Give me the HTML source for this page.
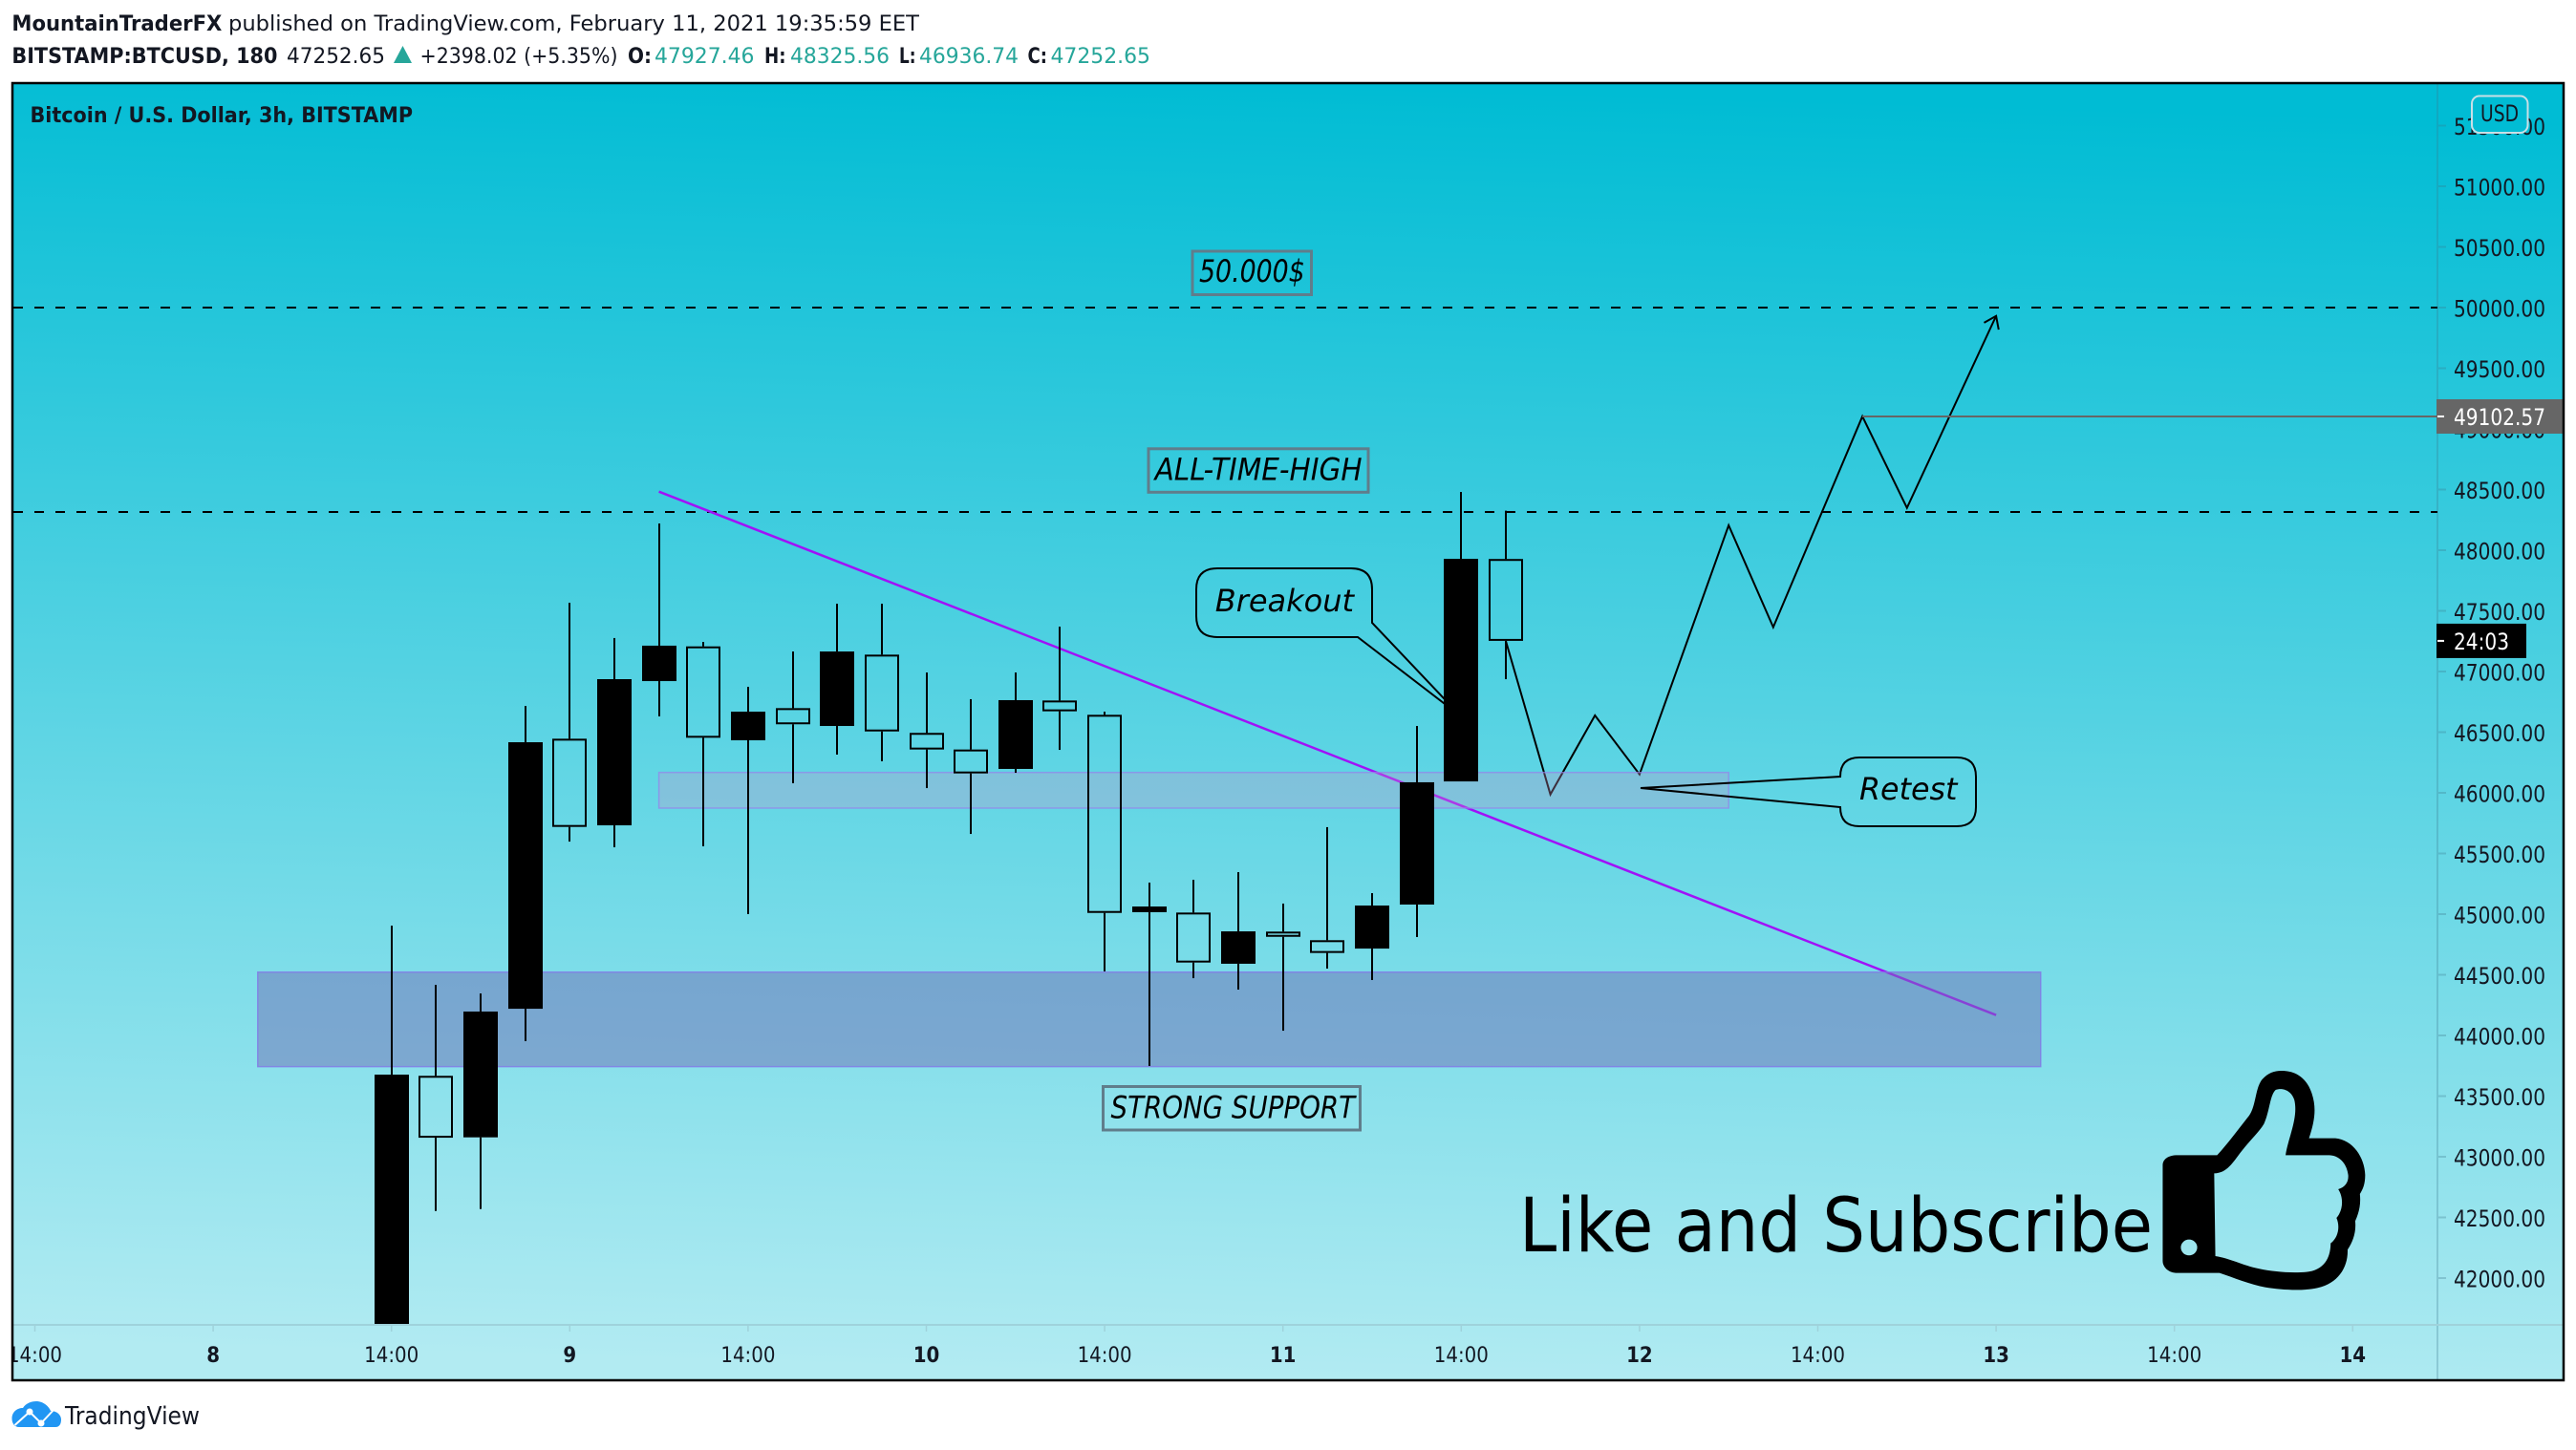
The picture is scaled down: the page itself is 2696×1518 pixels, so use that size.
<!DOCTYPE html>
<html lang="en">
<head>
<meta charset="utf-8">
<title>BTCUSD 3h chart</title>
<style>
html,body{margin:0;padding:0;background:#fff;width:2696px;height:1518px;overflow:hidden}
svg{display:block}
text{font-family:"DejaVu Sans","Liberation Sans",sans-serif;fill:#131722}
.b{font-weight:bold}
.g{fill:#26a69a}
.it{font-style:italic;fill:#000}
</style>
</head>
<body>
<svg xmlns="http://www.w3.org/2000/svg" width="2696" height="1518" viewBox="0 0 2696 1518">
<defs>
<linearGradient id="bgGrad" gradientUnits="userSpaceOnUse" x1="1368" y1="88" x2="1328" y2="1444">
<stop offset="0" stop-color="#00bcd4"/><stop offset="1" stop-color="#b2ebf2"/>
</linearGradient>
<clipPath id="plotClip"><rect x="14" y="88" width="2537" height="1298"/></clipPath>
<clipPath id="chartClip"><rect x="14" y="88" width="2668" height="1356"/></clipPath>
</defs>

<text class="b" x="12.4" y="32" font-size="22" textLength="220" lengthAdjust="spacingAndGlyphs">MountainTraderFX</text>
<text x="239" y="32" font-size="22" textLength="723" lengthAdjust="spacingAndGlyphs">published on TradingView.com, February 11, 2021 19:35:59 EET</text>

<text class="b" x="12.4" y="66" font-size="22" textLength="278" lengthAdjust="spacingAndGlyphs">BITSTAMP:BTCUSD, 180</text>
<text x="300" y="66" font-size="22" textLength="103" lengthAdjust="spacingAndGlyphs">47252.65</text>
<polygon points="421.5,48 431,66 412,66" fill="#26a69a"/>
<text x="439.5" y="66" font-size="22" textLength="207" lengthAdjust="spacingAndGlyphs">+2398.02 (+5.35%)</text>
<text class="b" x="657" y="66" font-size="22" textLength="25" lengthAdjust="spacingAndGlyphs">O:</text>
<text class="g" x="685" y="66" font-size="22" textLength="104.5" lengthAdjust="spacingAndGlyphs">47927.46</text>
<text class="b" x="800" y="66" font-size="22" textLength="22.5" lengthAdjust="spacingAndGlyphs">H:</text>
<text class="g" x="827" y="66" font-size="22" textLength="104" lengthAdjust="spacingAndGlyphs">48325.56</text>
<text class="b" x="941" y="66" font-size="22" textLength="17.5" lengthAdjust="spacingAndGlyphs">L:</text>
<text class="g" x="962" y="66" font-size="22" textLength="104" lengthAdjust="spacingAndGlyphs">46936.74</text>
<text class="b" x="1075.5" y="66" font-size="22" textLength="20.5" lengthAdjust="spacingAndGlyphs">C:</text>
<text class="g" x="1099.5" y="66" font-size="22" textLength="104.5" lengthAdjust="spacingAndGlyphs">47252.65</text>

<rect x="13" y="87" width="2670" height="1358" fill="url(#bgGrad)"/>

<g id="priceAxis"></g>
<g id="timeAxis" clip-path="url(#chartClip)"></g>

<text class="b" x="31.5" y="128" font-size="22" textLength="400.5" lengthAdjust="spacingAndGlyphs">Bitcoin / U.S. Dollar, 3h, BITSTAMP</text>

<g id="overlayLines" clip-path="url(#plotClip)"></g>
<g id="zones" clip-path="url(#plotClip)"></g>
<g id="candles" clip-path="url(#plotClip)"></g>

<g>
<rect x="1248" y="263" width="124.500" height="45.500" fill="none" stroke="#607d8b" stroke-width="3"/>
<text class="it" x="1255" y="295" font-size="32" textLength="110.700" lengthAdjust="spacingAndGlyphs">50.000$</text>
</g>
<g>
<rect x="1202" y="469.800" width="230" height="45.500" fill="none" stroke="#607d8b" stroke-width="3"/>
<text class="it" x="1208.600" y="502.700" font-size="32" textLength="217" lengthAdjust="spacingAndGlyphs">ALL-TIME-HIGH</text>
</g>
<g>
<rect x="1154.500" y="1137.500" width="269" height="45.500" fill="none" stroke="#607d8b" stroke-width="3"/>
<text class="it" x="1162.500" y="1170.700" font-size="32" textLength="255.500" lengthAdjust="spacingAndGlyphs">STRONG SUPPORT</text>
</g>
<g>
<path d="M1274 595H1414Q1436 595 1436 617V652L1529 750L1421 667H1274Q1252 667 1252 645V617Q1252 595 1274 595Z" fill="none" stroke="#000" stroke-width="2"/>
<text class="it" x="1271.800" y="640" font-size="32" textLength="145.200" lengthAdjust="spacingAndGlyphs">Breakout</text>
</g>
<g>
<path d="M1946 793H2048Q2068 793 2068 813V845Q2068 865 2048 865H1946Q1926 865 1926 845L1717 825L1926 813Q1926 793 1946 793Z" fill="none" stroke="#000" stroke-width="2"/>
<text class="it" x="1946" y="837" font-size="32" textLength="102.500" lengthAdjust="spacingAndGlyphs">Retest</text>
</g>

<text x="1590" y="1310" font-size="78" textLength="663" lengthAdjust="spacingAndGlyphs" style="fill:#000">Like and Subscribe</text>
<path transform="translate(1550,1080) scale(0.6124,0.3333)" fill="#000" fill-rule="evenodd"
 d="M1190 388L1258 388C1275 355 1295 305 1310 270C1325 240 1322 180 1335 150C1345 130 1355 123 1368 123C1395 123 1412 150 1420 195C1428 240 1425 280 1415 335L1460 335C1490 340 1510 395 1511 450C1511 480 1507 495 1502 510C1504 545 1500 570 1494 595C1496 630 1490 660 1481 685C1482 740 1465 790 1430 805C1405 815 1370 812 1340 803C1315 795 1285 772 1262 758L1190 758C1175 758 1165 740 1165 720L1165 420C1165 400 1175 388 1190 388Z
 M1253 445C1275 445 1285 410 1300 375C1315 340 1330 315 1338 290C1348 250 1348 200 1358 183C1370 175 1385 185 1390 215C1397 270 1380 330 1375 388L1450 388C1470 390 1480 420 1482 450C1483 470 1478 488 1465 495C1474 520 1474 560 1462 585C1468 610 1466 645 1452 665C1452 700 1445 745 1415 754C1390 760 1355 755 1330 745C1300 733 1280 712 1255 705Z
 M1196 678a14 25 0 1 0 28 0a14 25 0 1 0 -28 0Z"/>

<g id="priceOverlays"></g>

<g>
<rect x="2587" y="100.500" width="58.500" height="38.500" rx="8" fill="url(#bgGrad)" stroke="#c9dfe6" stroke-width="2"/>
<text x="2596" y="127" font-size="24" textLength="40" lengthAdjust="spacingAndGlyphs">USD</text>
</g>

<rect x="13" y="87" width="2670" height="1358" fill="none" stroke="#000" stroke-width="2.500"/>

<g>
<path d="M12.500 1485C12.500 1478 18 1474 24 1474C27 1469 33 1467 38 1467C45 1467 51 1472 53 1477C59 1477 64 1481 64 1486C64 1491 62 1494 58 1494H20C15 1494 12.500 1490 12.500 1485Z" fill="#2196f3"/>
<path d="M15.500 1492L31 1478L43 1490L58 1474" fill="none" stroke="#fff" stroke-width="2"/>
<circle cx="31" cy="1478" r="3.500" fill="#fff"/>
<circle cx="43" cy="1490" r="3.500" fill="#fff"/>
<text x="68" y="1491" font-size="26" textLength="141" lengthAdjust="spacingAndGlyphs">TradingView</text>
</g>
</svg>

<script>
// Candle data, one entry per 3h bar (bar 0 = 8 Feb 14:00)
const opens  = [41197,43667,43160,44220,46446,45732,46921,47207,46433,46698,46551,47139,46494,46357,46197,46761,46643,45016,45013,44591,44856,44785,44716,45079,46094,47927.46];
const highs  = [44905,44417,44346,46716,47567,47276,48220,47244,46874,47165,47559,47559,46992,46772,46992,47370,46669,45260,45283,45346,45087,45717,45173,46551,48480,48325.56];
const lows   = [41000,42553,42569,43953,45598,45551,46630,45559,45000,46079,46315,46260,46039,45661,46165,46354,44528,43748,44472,44378,44039,44551,44457,44811,46094,46936.74];
const closes = [43677,43157,44197,46417,45719,46937,47213,46454,46669,46565,47165,46506,46357,46160,46764,46672,45010,45063,44601,44858,44813,44680,45071,46087,47929,47252.65];

// Axis ticks
const priceTicks = [51500,51000,50500,50000,49500,49000,48500,48000,47500,47000,46500,46000,45500,45000,44500,44000,43500,43000,42500,42000];
const timeTickBars = [-8,-4,0,4,8,12,16,20,24,28,32,36,40,44];
const timeTickLabels = ["14:00","8","14:00","9","14:00","10","14:00","11","14:00","12","14:00","13","14:00","14"];

// Drawings
const levelPrices = [50000,48315];
const forecastBars = [25,26,27,28,30,31,33,34,36];
const forecastPrices = [47252,45987,46638,46152,48205,47365,49102.57,48349,49931];
const trendBars = [6,36];
const trendPrices = [48483,44168];
const horizontalBars = [33];
const horizontalPrices = [49102.57];
const zoneStartBars = [6,-3];
const zoneEndBars = [30,37];
const zoneTopPrices = [46168,44522];
const zoneBottomPrices = [45874,43743];

const lastPriceLabel = "49102.57";
const countdownPrice = 47252.65;
const countdownLabel = "24:03";

const NS = "http://www.w3.org/2000/svg";
const X_ORIGIN = 409.7, BAR_STEP = 46.65, Y_ORIGIN = 322, Y_SCALE = 0.127, PLOT_LEFT = 14, PLOT_RIGHT = 2551;
function xOf(bar){ return X_ORIGIN + bar * BAR_STEP; }
function yOf(price){ return Y_ORIGIN + (50000 - price) * Y_SCALE; }
function mk(tag, attrs, parent){
  const e = document.createElementNS(NS, tag);
  for (const k in attrs) e.setAttribute(k, attrs[k]);
  parent.appendChild(e);
  return e;
}
const priceAxisG = document.getElementById("priceAxis");
const timeAxisG = document.getElementById("timeAxis");
const linesG = document.getElementById("overlayLines");
const zonesG = document.getElementById("zones");
const candlesG = document.getElementById("candles");
const overlaysG = document.getElementById("priceOverlays");

// Price axis
let axisLine = mk("rect", {x:2550, y:88, width:2, height:1356, fill:"rgba(60,120,140,0.28)"}, priceAxisG);


priceTicks.forEach(function(p){
  const y = yOf(p);
  const t = mk("rect", {x:2552, y:y-1, width:8, height:2, fill:"rgba(60,120,140,0.3)"}, priceAxisG);
  
  
  const l = mk("text", {x:2568, y:y+9.5, "font-size":24, textLength:96, lengthAdjust:"spacingAndGlyphs"}, priceAxisG);
  
  
  l.textContent = p.toFixed(2);
});

// Time axis
let timeLine = mk("rect", {x:14, y:1386, width:2668, height:2, fill:"#9fd2db"}, timeAxisG);


timeTickBars.forEach(function(bar, i){
  const x = xOf(bar);
  const t = mk("rect", {x:x-0.75, y:1388, width:1.5, height:6, fill:"#9fd2db"}, timeAxisG);
  
  
  const l = mk("text", {x:x, y:1426, "font-size":22, "text-anchor":"middle"}, timeAxisG);
  
  
  l.textContent = timeTickLabels[i];
  if (timeTickLabels[i].indexOf(":") < 0) l.setAttribute("font-weight", "bold");
  l.setAttribute("textLength", l.getComputedTextLength() * 0.9);
  l.setAttribute("lengthAdjust", "spacingAndGlyphs");
});

// Horizontal dashed levels
levelPrices.forEach(function(p){
  const y = yOf(p);
  const d = mk("line", {x1:PLOT_LEFT, y1:y, x2:PLOT_RIGHT, y2:y, stroke:"#000", "stroke-width":2, "stroke-dasharray":"10 12"}, linesG);
  
  
});

// Trend line
let trend = mk("line", {x1:xOf(trendBars[0]), y1:yOf(trendPrices[0]), x2:xOf(trendBars[1]), y2:yOf(trendPrices[1]), stroke:"#a012f7", "stroke-width":2.5}, linesG);



// Forecast path with arrow head
const fpts = forecastBars.map(function(b, i){ return [xOf(b), yOf(forecastPrices[i])]; });
let forecast = mk("polyline", {points:fpts.map(function(q){ return q.join(","); }).join(" "), fill:"none", stroke:"#000", "stroke-width":2}, linesG);


const tip = fpts[fpts.length-1], prev = fpts[fpts.length-2];
const ang = Math.atan2(tip[1]-prev[1], tip[0]-prev[0]);
const hd = [ang+Math.PI-0.62, ang+Math.PI+0.62].map(function(a){ return [tip[0]+14.5*Math.cos(a), tip[1]+14.5*Math.sin(a)]; });
let arrow = mk("polyline", {points:hd[0].join(",")+" "+tip.join(",")+" "+hd[1].join(","), fill:"none", stroke:"#000", "stroke-width":2}, linesG);



// Horizontal ray at projected high
let hray = mk("line", {x1:xOf(horizontalBars[0]), y1:yOf(horizontalPrices[0]), x2:PLOT_RIGHT, y2:yOf(horizontalPrices[0]), stroke:"#666", "stroke-width":2}, linesG);



// Zones
const zoneFills = ["rgba(203,148,199,0.3)","rgba(111,111,182,0.5)"];
const zoneStrokes = ["rgba(150,130,235,0.7)","rgba(130,120,230,0.8)"];
zoneStartBars.forEach(function(b, i){
  const x = xOf(b), x2 = xOf(zoneEndBars[i]), y = yOf(zoneTopPrices[i]), y2 = yOf(zoneBottomPrices[i]);
  const r = mk("rect", {x:x, y:y, width:x2-x, height:y2-y, fill:zoneFills[i], stroke:zoneStrokes[i], "stroke-width":1.5}, zonesG);
  
  
});

// Candles
opens.forEach(function(o, i){
  const c = closes[i], h = highs[i], lo = lows[i];
  const x = Math.round(xOf(i));
  const top = yOf(Math.max(o, c)), bot = yOf(Math.min(o, c));
  const up = mk("rect", {x:x-1, y:yOf(h), width:2, height:Math.max(0, top-yOf(h)), fill:"#000"}, candlesG);
  
  
  const dn = mk("rect", {x:x-1, y:bot, width:2, height:Math.max(0, yOf(lo)-bot), fill:"#000"}, candlesG);
  
  
  let body;
  if (c >= o) {
    body = mk("rect", {x:x-18, y:top, width:36, height:bot-top, fill:"#000"}, candlesG);
  } else {
    body = mk("rect", {x:x-17, y:top+1, width:34, height:Math.max(1, bot-top-2), fill:"none", stroke:"#000", "stroke-width":2}, candlesG);
  }
  
  
});

// Axis overlay labels
const ly = yOf(horizontalPrices[0]);
let lbox = mk("rect", {x:2550, y:ly-18, width:132, height:36, fill:"#666"}, overlaysG);


let ltick = mk("rect", {x:2551, y:ly-1, width:7, height:2, fill:"#fff"}, overlaysG);


let ltext = mk("text", {x:2568, y:ly+9, "font-size":24, textLength:96, lengthAdjust:"spacingAndGlyphs", style:"fill:#fff"}, overlaysG);


ltext.textContent = lastPriceLabel;

const cy = yOf(countdownPrice);
let cbox = mk("rect", {x:2550, y:cy-18, width:94, height:36, fill:"#000"}, overlaysG);


let ctick = mk("rect", {x:2551, y:cy-1, width:7, height:2, fill:"#fff"}, overlaysG);


let ctext = mk("text", {x:2568, y:cy+9, "font-size":24, textLength:58, lengthAdjust:"spacingAndGlyphs", style:"fill:#fff"}, overlaysG);


ctext.textContent = countdownLabel;
</script>
</body>
</html>
